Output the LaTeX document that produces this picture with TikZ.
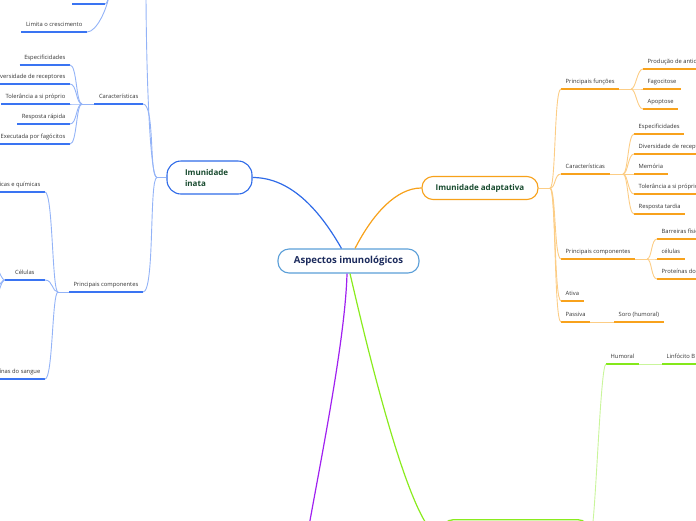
\documentclass[tikz,border=0pt]{standalone}
\usepackage{fontspec}
\newfontfamily\osans{Open Sans}
\definecolor{blueM}{HTML}{2F6BE8}
\definecolor{blueU}{HTML}{3A74F2}
\definecolor{blueC}{HTML}{93B3F7}
\definecolor{oraM}{HTML}{F7A11A}
\definecolor{oraU}{HTML}{F8A21C}
\definecolor{oraC}{HTML}{FCCD85}
\definecolor{grnM}{HTML}{8AEB1E}
\definecolor{grnU}{HTML}{84E81A}
\definecolor{grnC}{HTML}{C9F59B}
\definecolor{purM}{HTML}{A020F0}
\definecolor{ctrB}{HTML}{5B9FD8}
\definecolor{ctrT}{HTML}{1B2A5C}
\definecolor{mainT}{HTML}{174A2E}
\definecolor{txt}{HTML}{333333}
\tikzset{
  tb/.style={font=\osans\fontsize{5.8}{6.8}\selectfont, text=txt, inner xsep=4.5pt, inner ysep=3.7pt, text height=4pt, text depth=1.3pt},
  L/.style={tb, anchor=south east},
  R/.style={tb, anchor=south west},
  bu/.style={append after command={(\tikzlastnode.south west) edge[draw=blueU, line width=1.8pt] (\tikzlastnode.south east)}},
  ou/.style={append after command={(\tikzlastnode.south west) edge[draw=oraU, line width=1.8pt] (\tikzlastnode.south east)}},
  gu/.style={append after command={(\tikzlastnode.south west) edge[draw=grnU, line width=1.8pt] (\tikzlastnode.south east)}},
  bc/.style={draw=blueC, line width=0.9pt},
  oc/.style={draw=oraC, line width=0.9pt},
  gc/.style={draw=grnC, line width=0.9pt},
  mainbox/.style={draw, line width=1.1pt, fill=white, text=mainT, font=\osans\bfseries\fontsize{8}{11}\selectfont},
}
\begin{document}
\begin{tikzpicture}[x=1pt, y=-1pt]
\useasboundingbox (0,0) rectangle (696,520);
\clip (0,0) rectangle (696,520);

% ---------- main nodes ----------
\node[draw=ctrB, line width=1.1pt, fill=white, rounded corners=11pt, minimum width=141pt, minimum height=24pt,
      text=ctrT, font=\osans\bfseries\fontsize{9.6}{11}\selectfont] (ctr) at (348.5,261) {Aspectos imunológicos};
\node[mainbox, draw=blueM, rounded corners=14pt, minimum width=85pt, minimum height=33pt,
      text width=49pt, align=left] (inata) at (209.5,177.5) {Imunidade\\inata};
\node[mainbox, draw=oraM, rounded corners=11pt, minimum width=116pt, minimum height=23pt] (adapt) at (480,188) {Imunidade adaptativa};
\node[draw=grnM, line width=1.3pt, fill=white, rounded corners=12pt, minimum width=148pt, minimum height=34pt,
      anchor=north west] (gbox) at (441,519) {};

% ---------- main connectors ----------
\draw[blueM, line width=1.2pt] ([xshift=-7pt]ctr.north) .. controls +(-20,-35) and +(40,0) .. (inata.east);
\draw[oraM, line width=1.2pt] ([xshift=6.5pt]ctr.north) .. controls +(18,-35) and +(-25,0) .. (adapt.west);
\coordinate (pEnd) at (300,580);
\draw[purM, line width=1.2pt] ([xshift=-1.5pt]ctr.south) .. controls +(-2,80) and +(8,-60) .. (pEnd);
\draw[grnM, line width=1.2pt] ([xshift=1.5pt]ctr.south) .. controls +(14,60) and +(-30,0) .. (gbox.west);

% ---------- left tree (Imunidade inata) ----------
\node[L, bu] (lcar) at (143,104) {Características};
\node[L, bu] (lcomp) at (143,292) {Principais componentes};
\coordinate (bI) at (157,177.5);
\coordinate (topI) at (146,-10);
\draw[bc] (inata.west) -- (bI);
\draw[bc] (bI) .. controls +(-8,0) and +(12,0) .. (lcar.south east);
\draw[bc] (bI) .. controls +(-8,0) and +(12,0) .. (lcomp.south east);
\draw[bc] (bI) .. controls +(-8,0) and +(0,60) .. (topI);

% top-left fragment
\coordinate (tA) at (72,4);
\coordinate (tB) at (105,4);
\coordinate (bT) at (109,-4);
\coordinate (bTup) at (116,-25);
\draw[blueU, line width=1.8pt] (tA) -- (tB);
\node[L, bu] (lim) at (87,32) {Limita o crescimento};
\draw[bc] (lim.south east) .. controls +(10,0) and +(-2,12) .. (bT);
\draw[bc] (tB) .. controls +(2,0) and +(-1,3) .. (bT);
\draw[bc] (bT) -- (bTup);

% Características children
\coordinate (bC) at (82,104);
\draw[bc] (lcar.south west) -- (bC);
\node[L, bu] (lc1) at (70,65) {Especificidades};
\node[L, bu] (lc2) at (70,84) {Diversidade de receptores};
\node[L, bu] (lc3) at (70,104) {Tolerância a si próprio};
\node[L, bu] (lc4) at (70,124) {Resposta rápida};
\node[L, bu] (lc5) at (70,144) {Executada por fagócitos};
\foreach \c in {lc1,lc2,lc3,lc4,lc5}
  \draw[bc] (bC) .. controls +(-6,0) and +(7,0) .. (\c.south east);

% Principais componentes children
\coordinate (bP) at (58,292);
\draw[bc] (lcomp.south west) -- (bP);
\node[L, bu] (lp1) at (45,192) {Barreiras físicas e químicas};
\node[L, bu, minimum width=40pt] (lp2) at (45,280) {Células};
\node[L, bu] (lp3) at (45,379) {Proteínas do sangue};
\foreach \c in {lp1,lp2,lp3}
  \draw[bc] (bP) .. controls +(-6,0) and +(8,0) .. (\c.south east);
\coordinate (cl1) at (-14,250);
\coordinate (cl2) at (-14,300);
\coordinate (cl3) at (-14,318);
\foreach \c in {cl1,cl2,cl3}
  \draw[bc] (lp2.south west) .. controls +(-5,0) and +(8,0) .. (\c);

% ---------- right tree (Imunidade adaptativa) ----------
\coordinate (bA) at (550,188);
\draw[oc] (adapt.east) -- (bA);
\node[R, ou] (rfun) at (561,89) {Principais funções};
\node[R, ou] (rcar) at (561,174) {Características};
\node[R, ou] (rcomp) at (561,259) {Principais componentes};
\node[R, ou] (rat) at (561,301) {Ativa};
\node[R, ou] (rpas) at (561,322) {Passiva};
\foreach \c in {rfun,rcar,rcomp,rat,rpas}
  \draw[oc] (bA) .. controls +(6,0) and +(-7,0) .. (\c.south west);

\node[R, ou] (soro) at (614,322) {Soro (humoral)};
\draw[oc] (rpas.south east) -- (soro.south west);

% Principais funções children
\coordinate (bF) at (631,89);
\draw[oc] (rfun.south east) -- (bF);
\node[R, ou] (rf1) at (643,69) {Produção de anticorpos};
\node[R, ou] (rf2) at (643,89) {Fagocitose};
\node[R, ou] (rf3) at (643,109) {Apoptose};
\foreach \c in {rf1,rf2,rf3}
  \draw[oc] (bF) .. controls +(5,0) and +(-6,0) .. (\c.south west);

% Características children
\coordinate (bCa) at (623,174);
\draw[oc] (rcar.south east) -- (bCa);
\node[R, ou] (rc1) at (634,134) {Especificidades};
\node[R, ou] (rc2) at (634,154) {Diversidade de receptores};
\node[R, ou] (rc3) at (634,174) {Memória};
\node[R, ou] (rc4) at (634,194) {Tolerância a si próprio};
\node[R, ou] (rc5) at (634,214) {Resposta tardia};
\foreach \c in {rc1,rc2,rc3,rc4,rc5}
  \draw[oc] (bCa) .. controls +(5,0) and +(-6,0) .. (\c.south west);

% Principais componentes children
\coordinate (bCo) at (647,259);
\draw[oc] (rcomp.south east) -- (bCo);
\node[R, ou] (rp1) at (657,239) {Barreiras físicas e químicas};
\node[R, ou] (rp2) at (657,259) {células};
\node[R, ou] (rp3) at (657,279) {Proteínas do sangue};
\foreach \c in {rp1,rp2,rp3}
  \draw[oc] (bCo) .. controls +(5,0) and +(-6,0) .. (\c.south west);

% ---------- green branch ----------
\node[R, gu] (hum) at (606,364) {Humoral};
\node[R, gu] (lin) at (662,364) {Linfócito B};
\draw[gc] (gbox.east) .. controls +(5,0) and +(-6,0) .. (hum.south west);
\draw[gc] (hum.south east) -- (lin.south west);
\end{tikzpicture}
\end{document}
